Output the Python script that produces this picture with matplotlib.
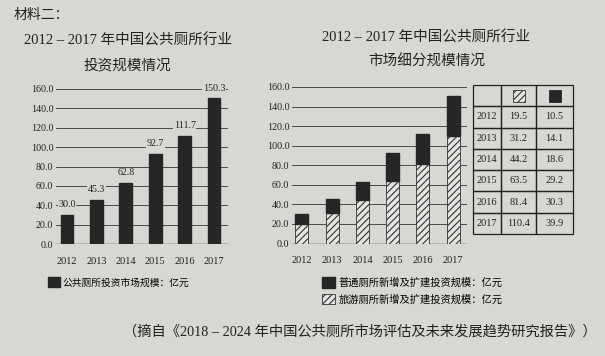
import matplotlib
matplotlib.use("Agg")
import matplotlib.pyplot as plt
from matplotlib.patches import Rectangle

plt.rcParams['font.family'] = ['Liberation Serif', 'Noto Sans CJK SC']
plt.rcParams['hatch.linewidth'] = 0.8

years = ['2012', '2013', '2014', '2015', '2016', '2017']
total_invest = [30.0, 45.3, 62.8, 92.7, 111.7, 150.3]
tourist = [19.5, 31.2, 44.2, 63.5, 81.4, 110.4]   # 旅游厕所 (hatched)
ordinary = [10.5, 14.1, 18.6, 29.2, 30.3, 39.9]   # 普通厕所 (black)
yticks = [0, 20, 40, 60, 80, 100, 120, 140, 160]

W, H = 605, 356
BG = '#d7d7d4'
DARK = '#262626'
CJK = ['Noto Sans CJK SC', 'DejaVu Sans']
MIX = ['Liberation Serif', 'Noto Sans CJK SC']

fig = plt.figure(figsize=(W / 100, H / 100), dpi=100, facecolor=BG)


def px_axes(left, top, width, height):
    return fig.add_axes([left / W, (H - top - height) / H, width / W, height / H])


def style_axes(ax, xlo, xhi):
    ax.set_facecolor('none')
    ax.set_ylim(0, 160)
    ax.set_xlim(xlo, xhi)
    ax.set_yticks(yticks)
    ax.set_yticklabels(['%.1f' % v for v in yticks], fontsize=7.2, color='#222')
    ax.set_xticks(range(len(years)))
    ax.set_xticklabels(years, fontsize=7.5, color='#222')
    ax.tick_params(axis='y', length=0, pad=2)
    ax.tick_params(axis='x', length=0, pad=9)
    for s in ax.spines.values():
        s.set_visible(False)
    ax.yaxis.grid(True, color='#4a4a4a', lw=0.7)
    ax.axhline(0, color='#333', lw=1.0)
    ax.set_axisbelow(True)


x = range(len(years))

# left chart
ax1 = px_axes(56, 89, 172, 155)
style_axes(ax1, -0.374, 5.476)
b1 = ax1.bar(x, total_invest, width=0.44, color=DARK, edgecolor=DARK, zorder=3)
for i, v in zip(x, total_invest):
    ax1.text(i, v + 6, '%.1f' % v, ha='center', va='bottom', fontsize=7.2, color='#222',
             bbox=dict(facecolor=BG, edgecolor='none', pad=0.5), zorder=4)
ax1.legend([b1], ['公共厕所投资市场规模：亿元'], loc='upper left',
           bbox_to_anchor=(48 / W, (H - 277) / H), bbox_transform=fig.transFigure,
           frameon=False, borderpad=0, borderaxespad=0, handlelength=1.25,
           handleheight=1.25, handletextpad=0.2, prop={'family': CJK, 'size': 7})

# right chart
ax2 = px_axes(292, 87, 175, 156.5)
style_axes(ax2, -0.33, 5.46)
b_t = ax2.bar(x, tourist, width=0.43, color='#e4e4e2', edgecolor='#333', hatch='/////',
              lw=0.6, zorder=3)
b_o = ax2.bar(x, ordinary, bottom=tourist, width=0.43, color=DARK, edgecolor=DARK, zorder=3)
ax2.legend([b_o, b_t], ['普通厕所新增及扩建投资规模：亿元', '旅游厕所新增及扩建投资规模：亿元'],
           loc='upper left', bbox_to_anchor=(322 / W, (H - 277) / H),
           bbox_transform=fig.transFigure, frameon=False, borderpad=0, borderaxespad=0,
           handlelength=1.3, handleheight=1.25, handletextpad=0.3, labelspacing=0.55,
           prop={'family': CJK, 'size': 7.4})

# data table
axt = px_axes(473, 85, 100, 149)
axt.set_axis_off()
cells = [['', '', '']] + [[y, '%.1f' % a, '%.1f' % b] for y, a, b in zip(years, tourist, ordinary)]
tbl = axt.table(cellText=cells, bbox=[0, 0, 1, 1], colWidths=[28, 35, 37], cellLoc='center')
tbl.auto_set_font_size(False)
for (r, c), cell in tbl.get_celld().items():
    cell.set_facecolor('none')
    cell.set_edgecolor('#222')
    cell.set_linewidth(0.9)
    cell.get_text().set_fontsize(7.5)
    cell.get_text().set_color('#222')
hy = 1 - 0.5 / 7
axt.add_patch(Rectangle((0.455 - 0.06, hy - 0.04), 0.12, 0.08, transform=axt.transAxes,
                        facecolor='#e4e4e2', edgecolor='#333', hatch='/////', lw=0.6))
axt.add_patch(Rectangle((0.815 - 0.06, hy - 0.04), 0.12, 0.08, transform=axt.transAxes,
                        facecolor=DARK, edgecolor=DARK, lw=0.6))

# titles and notes
fig.text(14 / W, 1 - 15 / H, '材料二：', fontsize=10, family=CJK, color='#222', va='center')
fig.text(128 / W, 1 - 40 / H, '2012 – 2017 年中国公共厕所行业', fontsize=10.5, family=MIX,
         color='#222', ha='center', va='center')
fig.text(127 / W, 1 - 65 / H, '投资规模情况', fontsize=10.5, family=MIX,
         color='#222', ha='center', va='center')
fig.text(426 / W, 1 - 37 / H, '2012 – 2017 年中国公共厕所行业', fontsize=10.5, family=MIX,
         color='#222', ha='center', va='center')
fig.text(427 / W, 1 - 62 / H, '市场细分规模情况', fontsize=10.5, family=MIX,
         color='#222', ha='center', va='center')
fig.text(597 / W, 1 - 332 / H, '（摘自《2018 – 2024 年中国公共厕所市场评估及未来发展趋势研究报告》）',
         fontsize=10.3, family=MIX, color='#222', ha='right', va='center')

fig.savefig('out.png', dpi=100, facecolor=BG)
